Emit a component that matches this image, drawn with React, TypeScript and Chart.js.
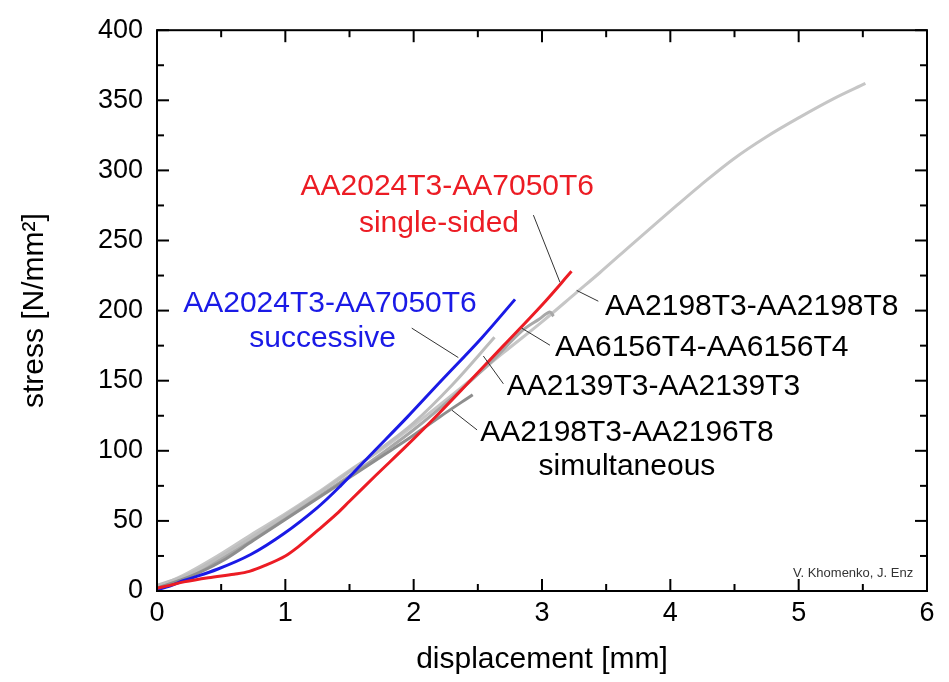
import React, { useEffect, useRef } from "react";
import { Chart, registerables } from "chart.js";

Chart.register(...registerables);

// ---- data (displacement [mm], stress [N/mm²]) ----
const redX = [0, 0.1, 0.21, 0.4, 0.6, 0.72, 0.85, 1.0, 1.1, 1.25, 1.4, 1.5, 1.7, 1.95, 2.2, 2.42, 2.7, 3.0, 3.23];
const redY = [2, 4, 6.5, 9.5, 12, 14, 18.5, 25, 31.5, 43, 55, 64, 82, 104, 127, 148, 175, 204, 228];

const blueX = [0, 0.1, 0.21, 0.47, 0.73, 0.99, 1.25, 1.43, 1.69, 1.95, 2.2, 2.53, 2.79];
const blueY = [1, 3.5, 7.5, 15.5, 26, 41, 59.5, 75, 99.5, 124, 148.5, 180.5, 208];

const a2198X = [0, 0.2, 0.47, 0.73, 1.0, 1.25, 1.5, 1.75, 2.0, 2.37, 2.7, 3.0, 3.27, 3.45, 3.71, 4.05, 4.23, 4.49, 4.75, 5.01, 5.27, 5.52];
const a2198Y = [3, 11, 25, 40, 55, 70, 86, 101, 118, 145, 170, 192, 213, 227, 248, 275, 289, 308, 324, 338, 351, 362];

const a2139X = [0, 0.25, 0.5, 0.75, 1.0, 1.25, 1.5, 1.75, 2.0, 2.3, 2.63];
const a2139Y = [4, 12, 25, 39, 54, 69, 85, 102, 120, 147, 181];

const a6156X = [0, 0.25, 0.5, 0.75, 1.0, 1.25, 1.5, 1.75, 2.0, 2.3, 2.6, 2.85, 2.98, 3.06, 3.09];
const a6156Y = [3, 11, 23, 37, 52, 67, 82, 98, 115, 138, 163, 186, 194, 199, 196];

const simX = [0, 0.25, 0.5, 0.75, 1.0, 1.25, 1.5, 1.75, 1.95, 2.2, 2.46];
const simY = [2, 10, 21, 36, 51, 66, 81, 96, 108, 124, 140];

const xTicks = [0, 1, 2, 3, 4, 5, 6];
const yTicks = [0, 50, 100, 150, 200, 250, 300, 350, 400];

const FONT = "'Liberation Sans', Arial, Helvetica, sans-serif";

// annotation texts: [text, x, y, align, color]
const labels: [string, number, number, CanvasTextAlign, string][] = [
  ["AA2024T3-AA7050T6", 2.262, 282.3, "center", "#ec1c24"],
  ["single-sided", 2.197, 256.4, "center", "#ec1c24"],
  ["AA2024T3-AA7050T6", 1.348, 199.0, "center", "#1a1ae6"],
  ["successive", 1.29, 173.7, "center", "#1a1ae6"],
  ["AA2198T3-AA2198T8", 3.491, 196.8, "left", "#000"],
  ["AA6156T4-AA6156T4", 3.101, 167.6, "left", "#000"],
  ["AA2139T3-AA2139T3", 2.725, 139.6, "left", "#000"],
  ["AA2198T3-AA2196T8", 2.519, 107.0, "left", "#000"],
  ["simultaneous", 3.662, 82.5, "center", "#000"],
];

// leader lines: [x1, y1, x2, y2]
const leaders: [number, number, number, number][] = [
  [2.933, 268.1, 3.14, 220.2],
  [3.27, 214.4, 3.439, 206.7],
  [2.842, 187.5, 3.062, 175.3],
  [2.543, 167.6, 2.699, 147.8],
  [1.985, 187.5, 2.348, 166.5],
  [2.299, 128.9, 2.494, 114.9],
];

const pts = (xs: number[], ys: number[]) => xs.map((x, i) => ({ x, y: ys[i] }));

const overlay = {
  id: "overlay",
  afterDatasetsDraw(chart: any) {
    const { ctx, chartArea: ca, scales } = chart;
    const xs = scales.x;
    const ys = scales.y;
    ctx.save();
    ctx.strokeStyle = "#000";
    ctx.lineWidth = 2;
    ctx.strokeRect(ca.left, ca.top, ca.right - ca.left, ca.bottom - ca.top);
    const line = (a: number, b: number, c: number, d: number) => {
      ctx.beginPath();
      ctx.moveTo(a, b);
      ctx.lineTo(c, d);
      ctx.stroke();
    };
    for (let i = 0; i <= 12; i++) {
      const v = i * 0.5;
      const px = xs.getPixelForValue(v);
      const len = i % 2 === 0 ? 12 : 7;
      line(px, ca.bottom, px, ca.bottom - len);
      line(px, ca.top, px, ca.top + len);
    }
    for (let i = 0; i <= 16; i++) {
      const v = i * 25;
      const py = ys.getPixelForValue(v);
      const len = i % 2 === 0 ? 12 : 7;
      line(ca.left, py, ca.left + len, py);
      line(ca.right, py, ca.right - len, py);
    }
    // leaders
    ctx.strokeStyle = "#333";
    ctx.lineWidth = 1;
    for (const [a, b, c, d] of leaders) {
      line(xs.getPixelForValue(a), ys.getPixelForValue(b), xs.getPixelForValue(c), ys.getPixelForValue(d));
    }
    // labels
    ctx.font = `30px ${FONT}`;
    ctx.textBaseline = "alphabetic";
    for (const [t, x, y, al, col] of labels) {
      ctx.fillStyle = col;
      ctx.textAlign = al;
      ctx.fillText(t, xs.getPixelForValue(x), ys.getPixelForValue(y));
    }
    ctx.font = `13px ${FONT}`;
    ctx.fillStyle = "#333";
    ctx.textAlign = "center";
    ctx.fillText("V. Khomenko, J. Enz", xs.getPixelForValue(5.424), ys.getPixelForValue(9.8));
    ctx.restore();
  },
};

export default function App() {
  const ref = useRef<HTMLCanvasElement | null>(null);
  useEffect(() => {
    if (!ref.current) return;
    const ds = (label: string, xs: number[], ys: number[], color: string, w = 3) => ({
      label,
      data: pts(xs, ys),
      borderColor: color,
      backgroundColor: color,
      borderWidth: w,
      pointRadius: 0,
      tension: 0.35,
      fill: false,
    });
    const chart = new Chart(ref.current, {
      type: "line",
      data: {
        datasets: [
          ds("AA2024T3-AA7050T6 single-sided", redX, redY, "#ec1c24"),
          ds("AA2024T3-AA7050T6 successive", blueX, blueY, "#1a1ae6"),
          ds("AA2198T3-AA2196T8 simultaneous", simX, simY, "#8e8e8e"),
          ds("AA2139T3-AA2139T3", a2139X, a2139Y, "#bdbdbd"),
          ds("AA6156T4-AA6156T4", a6156X, a6156Y, "#a8a8a8"),
          ds("AA2198T3-AA2198T8", a2198X, a2198Y, "#c6c6c6"),
        ],
      },
      options: {
        responsive: false,
        animation: false,
        events: [],
        layout: { padding: { top: 21, right: 22, left: 0, bottom: 0 } },
        plugins: { legend: { display: false }, tooltip: { enabled: false } },
        scales: {
          x: {
            type: "linear",
            min: 0,
            max: 6,
            afterFit: (s: any) => {
              s.height = 91;
            },
            afterBuildTicks: (s: any) => {
              s.ticks = xTicks.map((v) => ({ value: v }));
            },
            grid: { display: false, drawTicks: false },
            border: { display: false },
            ticks: { font: { family: FONT, size: 27 }, color: "#000", padding: 6, autoSkip: false, maxRotation: 0 },
            title: {
              display: true,
              text: "displacement [mm]",
              font: { family: FONT, size: 30 },
              color: "#000",
              padding: { top: 0, bottom: 4 },
            },
          },
          y: {
            type: "linear",
            min: 0,
            max: 400,
            afterFit: (s: any) => {
              s.width = 157;
            },
            afterBuildTicks: (s: any) => {
              s.ticks = yTicks.map((v) => ({ value: v }));
            },
            grid: { display: false, drawTicks: false },
            border: { display: false },
            ticks: { font: { family: FONT, size: 27 }, color: "#000", padding: 14 },
            title: {
              display: true,
              text: "stress [N/mm²]",
              font: { family: FONT, size: 30 },
              color: "#000",
              padding: { top: 17, bottom: 0 },
            },
          },
        },
      },
      plugins: [overlay],
    });
    return () => chart.destroy();
  }, []);
  return (
    <div style={{ position: "fixed", left: 0, top: 0, width: 949, height: 682, background: "#fff" }}>
      <canvas ref={ref} width={949} height={682} style={{ display: "block" }} />
    </div>
  );
}
